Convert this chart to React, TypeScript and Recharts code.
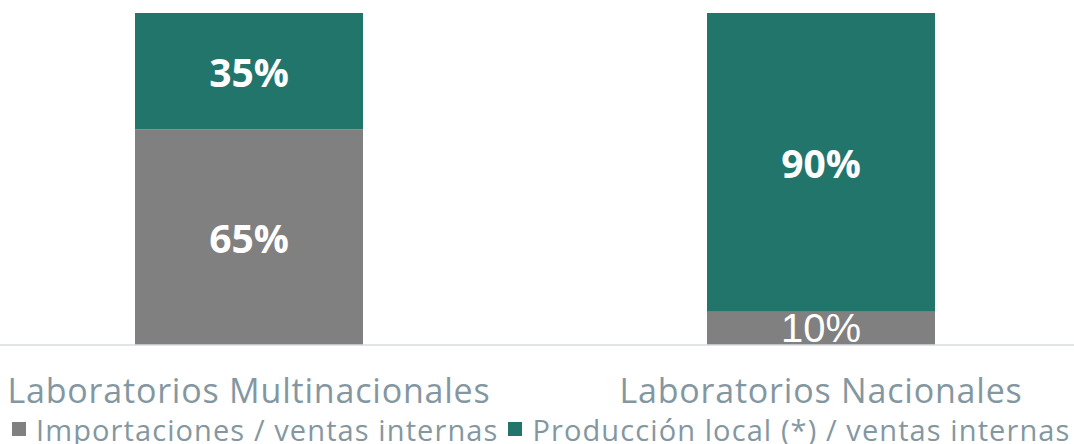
import { BarChart, Bar, XAxis, YAxis, Legend, LabelList } from 'recharts';

const categories = ['Laboratorios Multinacionales', 'Laboratorios Nacionales'];
const importaciones = [65, 10];
const produccionLocal = [35, 90];
const seriesNames = ['Importaciones / ventas internas', 'Producción local (*) / ventas internas'];

const GRAY = '#808080';
const TEAL = '#22756b';
const TEXT = '#8497a1';

const data = categories.map((name, i) => ({
  name,
  imp: importaciones[i],
  prod: produccionLocal[i],
}));

function PctLabel(props: any) {
  const { x, y, width, height, value } = props;
  const small = height < 50;
  return (
    <text
      x={x + width / 2}
      y={y + height / 2}
      textAnchor="middle"
      dominantBaseline="central"
      fill="#ffffff"
      style={{
        fontFamily: small ? '"Liberation Sans", Arial, sans-serif' : '"Open Sans", sans-serif',
        fontWeight: small ? 400 : 700,
        fontSize: small ? 40 : 39,
      }}
    >
      {`${value}%`}
    </text>
  );
}

function CustomLegend() {
  const colors = [GRAY, TEAL];
  return (
    <div
      style={{
        height: 34,
        display: 'flex',
        alignItems: 'center',
        fontFamily: '"Open Sans", sans-serif',
        fontSize: 29,
        letterSpacing: 1.1,
        color: TEXT,
        whiteSpace: 'nowrap',
        paddingLeft: 12,
      }}
    >
      {seriesNames.map((n, i) => (
        <span key={n} style={{ display: 'flex', alignItems: 'center', marginRight: 10 }}>
          <span style={{ width: 14, height: 14, background: colors[i], marginRight: 10 }} />
          {n}
        </span>
      ))}
    </div>
  );
}

export default function App() {
  return (
    <div style={{ position: 'absolute', left: 0, top: 0, width: 1074, height: 444, overflow: 'hidden', background: '#fff' }}>
      <div style={{ position: 'absolute', left: -37, top: 0 }}>
        <BarChart
          width={1144}
          height={444}
          data={data}
          margin={{ top: 13, right: 0, bottom: 0, left: 0 }}
          barSize={228}
        >
          <XAxis
            dataKey="name"
            axisLine={{ stroke: '#d9dde0', strokeWidth: 1.5 }}
            tickLine={false}
            tickSize={0}
            tickMargin={34}
            height={65}
            interval={0}
            tick={{ fill: TEXT, fontSize: 34, letterSpacing: 0.8, fontFamily: '"Open Sans", sans-serif' }}
          />
          <YAxis hide domain={[0, 100]} />
          <Legend
            verticalAlign="bottom"
            content={<CustomLegend />}
            wrapperStyle={{ left: 37, width: 1074, bottom: -2 }}
          />
          <Bar dataKey="imp" name={seriesNames[0]} stackId="a" fill={GRAY} isAnimationActive={false}>
            <LabelList dataKey="imp" content={<PctLabel />} />
          </Bar>
          <Bar dataKey="prod" name={seriesNames[1]} stackId="a" fill={TEAL} isAnimationActive={false}>
            <LabelList dataKey="prod" content={<PctLabel />} />
          </Bar>
        </BarChart>
      </div>
    </div>
  );
}
